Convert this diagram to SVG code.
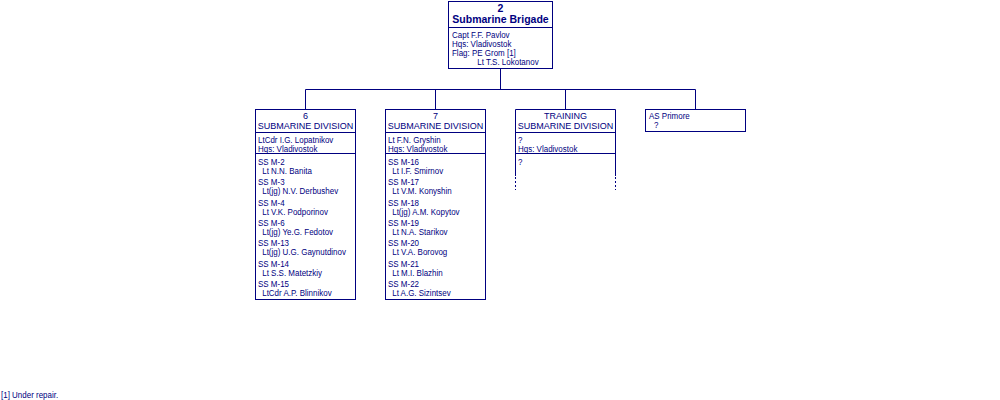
<svg xmlns="http://www.w3.org/2000/svg" width="1000" height="400" viewBox="0 0 1000 400">
<style>
.box{fill:#fff;stroke:#000080;stroke-width:1}
.ln{fill:none;stroke:#000080;stroke-width:1}
.dash{fill:none;stroke:#000080;stroke-width:1;stroke-dasharray:2,2}
text{font-family:"Liberation Sans",Arial,sans-serif;fill:#000080}
.t{font-size:10.5px;font-weight:bold;text-anchor:middle}
.h{font-size:9px;text-anchor:middle}
.b{font-size:9.5px}
</style>
<rect width="1000" height="400" fill="#fff"/>
<g id="connectors">
<path class="ln" d="M500.5 68V89.5M305.5 89.5H695.5M305.5 89.5V109M435.5 89.5V109M565.5 89.5V109M695.5 89.5V109"/>
</g>
<g id="brigade">
<rect class="box" x="448.5" y="1.5" width="104" height="67"/>
<line class="ln" x1="448.5" y1="27.5" x2="552.5" y2="27.5"/>
<text class="t" x="500.5" y="12">2</text>
<text class="t" x="500.5" y="23">Submarine Brigade</text>
<g transform="translate(452,0) scale(0.84,1)">
<text class="b" x="0" y="38">Capt F.F. Pavlov</text>
<text class="b" x="0" y="47">Hqs: Vladivostok</text>
<text class="b" x="0" y="56.5">Flag: PE Grom [1]</text>
<text class="b" x="30" y="65.5">Lt T.S. Lokotanov</text>
</g>
</g>
<g id="div6">
<rect class="box" x="255.5" y="109.5" width="100" height="190"/>
<line class="ln" x1="255.5" y1="132.5" x2="355.5" y2="132.5"/>
<line class="ln" x1="255.5" y1="153.5" x2="355.5" y2="153.5"/>
<text class="h" x="305.5" y="119">6</text>
<text class="h" x="305.5" y="129">SUBMARINE DIVISION</text>
<g transform="translate(258,0) scale(0.84,1)">
<text class="b" x="0" y="143.5">LtCdr I.G. Lopatnikov</text>
<text class="b" x="0" y="152.5">Hqs: Vladivostok</text>
<text class="b" x="0" y="165">SS M-2</text>
<text class="b" x="5" y="174">Lt N.N. Banita</text>
<text class="b" x="0" y="185.3">SS M-3</text>
<text class="b" x="5" y="194.3">Lt(jg) N.V. Derbushev</text>
<text class="b" x="0" y="205.6">SS M-4</text>
<text class="b" x="5" y="214.6">Lt V.K. Podporinov</text>
<text class="b" x="0" y="226">SS M-6</text>
<text class="b" x="5" y="235">Lt(jg) Ye.G. Fedotov</text>
<text class="b" x="0" y="246.3">SS M-13</text>
<text class="b" x="5" y="255.3">Lt(jg) U.G. Gaynutdinov</text>
<text class="b" x="0" y="266.6">SS M-14</text>
<text class="b" x="5" y="275.6">Lt S.S. Matetzkiy</text>
<text class="b" x="0" y="287">SS M-15</text>
<text class="b" x="5" y="296">LtCdr A.P. Blinnikov</text>
</g>
</g>
<g id="div7">
<rect class="box" x="385.5" y="109.5" width="100" height="190"/>
<line class="ln" x1="385.5" y1="132.5" x2="485.5" y2="132.5"/>
<line class="ln" x1="385.5" y1="153.5" x2="485.5" y2="153.5"/>
<text class="h" x="435.5" y="119">7</text>
<text class="h" x="435.5" y="129">SUBMARINE DIVISION</text>
<g transform="translate(388,0) scale(0.84,1)">
<text class="b" x="0" y="143.5">Lt F.N. Gryshin</text>
<text class="b" x="0" y="152.5">Hqs: Vladivostok</text>
<text class="b" x="0" y="165">SS M-16</text>
<text class="b" x="5" y="174">Lt I.F. Smirnov</text>
<text class="b" x="0" y="185.3">SS M-17</text>
<text class="b" x="5" y="194.3">Lt V.M. Konyshin</text>
<text class="b" x="0" y="205.6">SS M-18</text>
<text class="b" x="5" y="214.6">Lt(jg) A.M. Kopytov</text>
<text class="b" x="0" y="226">SS M-19</text>
<text class="b" x="5" y="235">Lt N.A. Starikov</text>
<text class="b" x="0" y="246.3">SS M-20</text>
<text class="b" x="5" y="255.3">Lt V.A. Borovog</text>
<text class="b" x="0" y="266.6">SS M-21</text>
<text class="b" x="5" y="275.6">Lt M.I. Blazhin</text>
<text class="b" x="0" y="287">SS M-22</text>
<text class="b" x="5" y="296">Lt A.G. Sizintsev</text>
</g>
</g>
<g id="training">
<path class="ln" d="M515.5 176V109.5H615.5V176"/>
<path class="dash" d="M515.5 177V190M615.5 177V190"/>
<line class="ln" x1="515.5" y1="132.5" x2="615.5" y2="132.5"/>
<line class="ln" x1="515.5" y1="153.5" x2="615.5" y2="153.5"/>
<text class="h" x="565.5" y="119">TRAINING</text>
<text class="h" x="565.5" y="129">SUBMARINE DIVISION</text>
<g transform="translate(518,0) scale(0.84,1)">
<text class="b" x="0" y="143.5">?</text>
<text class="b" x="0" y="152.5">Hqs: Vladivostok</text>
<text class="b" x="0" y="165">?</text>
</g>
</g>
<g id="primore">
<rect class="box" x="645.5" y="109.5" width="100" height="22"/>
<g transform="translate(649,0) scale(0.84,1)">
<text class="b" x="0" y="119.5">AS Primore</text>
<text class="b" x="6" y="128.5">?</text>
</g>
</g>
<g id="footnote" transform="translate(1,0) scale(0.84,1)">
<text class="b" x="0" y="398">[1] Under repair.</text>
</g>
</svg>
